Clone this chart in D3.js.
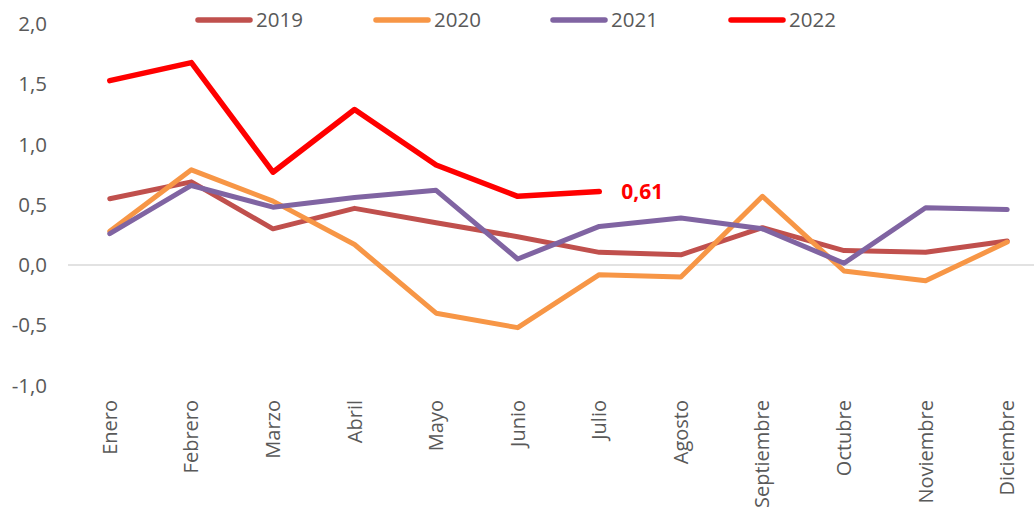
<!DOCTYPE html>
<html><head><meta charset="utf-8">
<script src="https://cdn.jsdelivr.net/npm/d3@7"></script>
<style>body{margin:0;background:#fff}svg{display:block}text{font-family:"Open Sans",sans-serif}</style>
</head><body>
<script>
const months = ["Enero","Febrero","Marzo","Abril","Mayo","Junio","Julio","Agosto","Septiembre","Octubre","Noviembre","Diciembre"];
const years = ["2019","2020","2021","2022"];
const v2019 = [0.55,0.69,0.30,0.47,0.35,0.235,0.105,0.085,0.31,0.12,0.105,0.20];
const v2020 = [0.28,0.79,0.53,0.17,-0.40,-0.52,-0.08,-0.10,0.57,-0.05,-0.13,0.19];
const v2021 = [0.26,0.66,0.48,0.56,0.62,0.05,0.32,0.39,0.30,0.015,0.475,0.46];
const v2022 = [1.53,1.68,0.77,1.29,0.83,0.57,0.61];
const yTicks = [-1.0,-0.5,0,0.5,1.0,1.5,2.0];
const colors = ["#C0504D","#F79646","#8064A2","#FF0000"];
const seriesVals = [v2019,v2020,v2021,v2022];

const W=1034,H=510;
const svg=d3.select("body").append("svg").attr("width",W).attr("height",H);
const x=d3.scaleBand().domain(months).range([69,1048]);
const y=d3.scaleLinear().domain([-1,2]).range([385.5,24]);
const cx=m=>x(m)+x.bandwidth()/2;

const fmt=v=>d3.format(".1f")(v).replace(".",",").replace("−","-");
svg.append("g").selectAll("text").data(yTicks).join("text")
  .attr("x",47).attr("y",d=>y(d)).attr("dy","0.35em").attr("text-anchor","end")
  .attr("font-size",20.5).attr("fill","#595959").text(fmt);

svg.append("line").attr("x1",68).attr("x2",W).attr("y1",y(0)).attr("y2",y(0))
  .attr("stroke","#D9D9D9").attr("stroke-width",1.5);

svg.append("g").selectAll("text").data(months).join("text")
  .attr("transform",d=>`translate(${cx(d)},400) rotate(-90)`)
  .attr("text-anchor","end").attr("dy","0.35em")
  .attr("font-size",20).attr("fill","#595959").text(d=>d);

const line=d3.line().x((d,i)=>cx(months[i])).y(d=>y(d));
seriesVals.forEach((vals,k)=>{
  svg.append("path").datum(vals).attr("d",line).attr("fill","none")
    .attr("stroke",colors[k]).attr("stroke-width",k===3?5.5:5)
    .attr("stroke-linejoin","round").attr("stroke-linecap","round");
});

const last=v2022.length-1;
svg.append("text").attr("x",cx(months[last])+22).attr("y",y(v2022[last])).attr("dy","0.35em")
  .attr("font-size",21).attr("font-weight","bold").attr("fill","#FF0000")
  .text(d3.format(".2f")(v2022[last]).replace(".",","));

const legX=[198,376,553,731];
const lg=svg.append("g");
years.forEach((yr,k)=>{
  lg.append("line").attr("x1",legX[k]).attr("x2",legX[k]+52).attr("y1",20).attr("y2",20)
    .attr("stroke",colors[k]).attr("stroke-width",5.5).attr("stroke-linecap","round");
  lg.append("text").attr("x",legX[k]+58).attr("y",20).attr("dy","0.35em")
    .attr("font-size",20.5).attr("fill","#595959").text(yr);
});
</script>
</body></html>
